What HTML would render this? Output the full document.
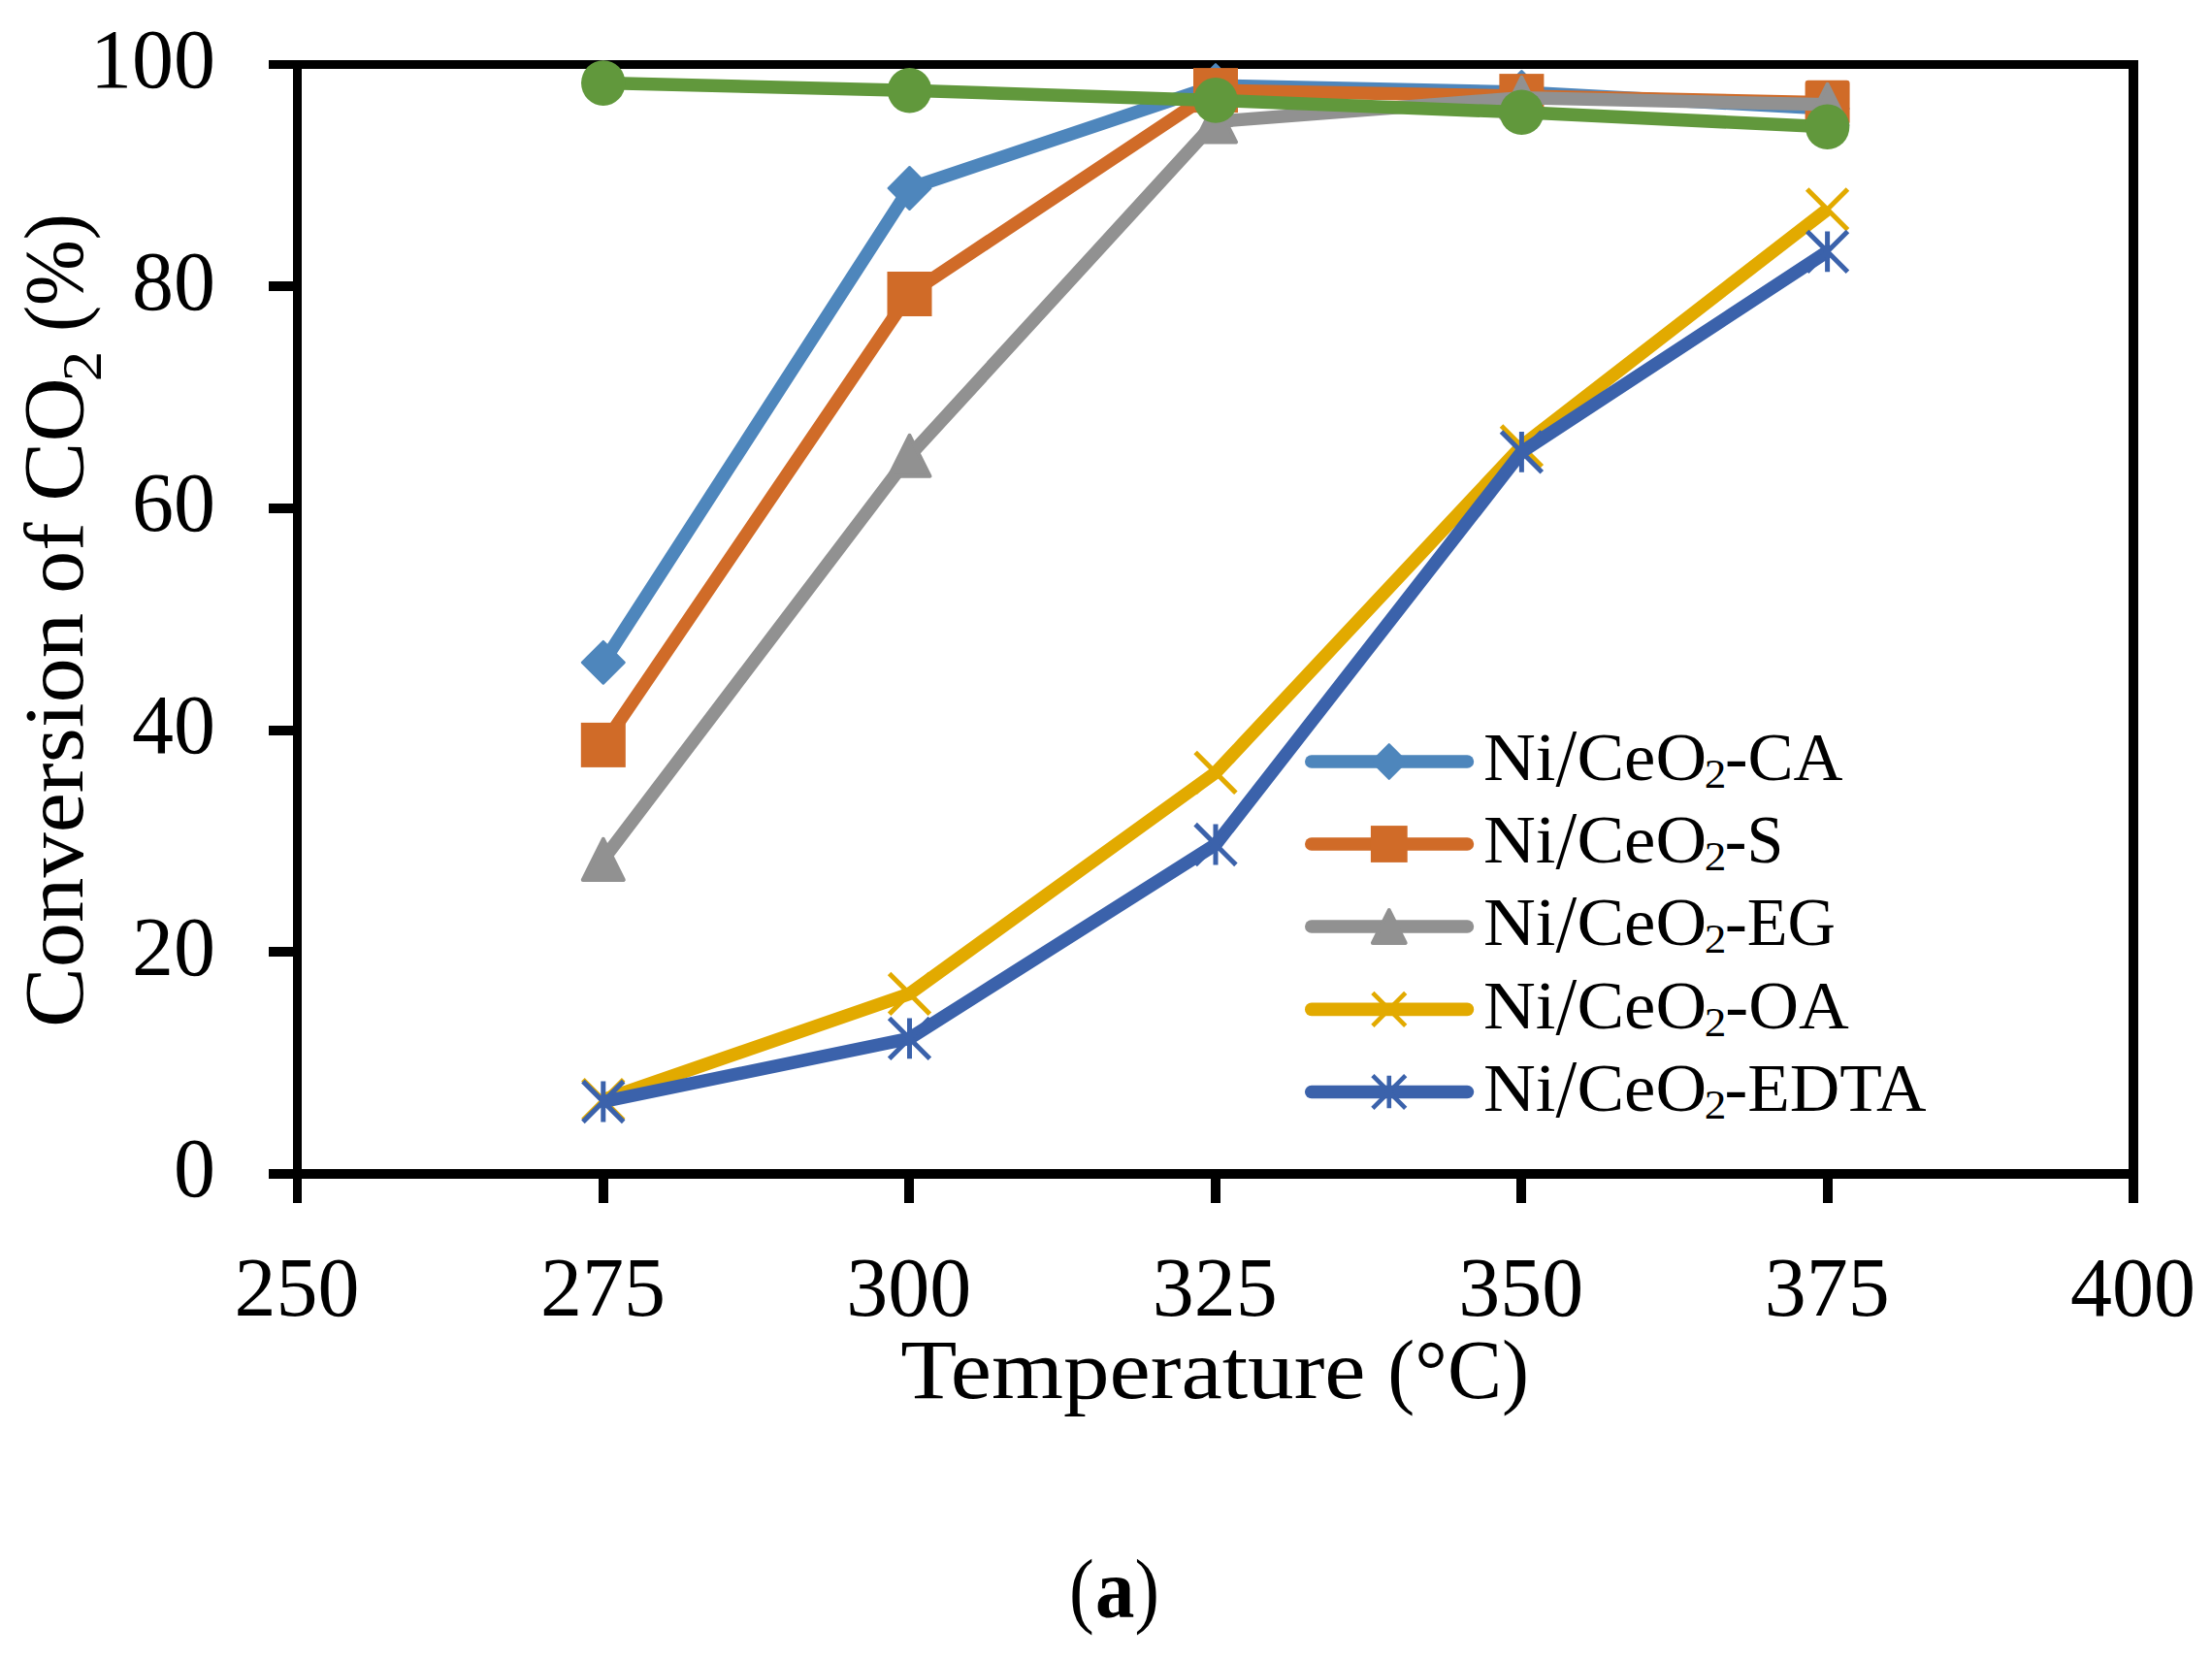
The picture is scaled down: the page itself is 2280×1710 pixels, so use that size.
<!DOCTYPE html>
<html lang="en"><head><meta charset="utf-8"><title>Conversion of CO2 vs temperature (a)</title>
<style>html,body{margin:0;padding:0;background:#fff}svg{display:block}text{font-family:"Liberation Serif","DejaVu Serif",serif;fill:#000}</style></head><body>
<svg width="2280" height="1710" viewBox="0 0 2280 1710">
<rect width="2280" height="1710" fill="#fff"/>
<g fill="#000">
<rect x="302" y="62" width="9" height="1178"/>
<rect x="2194" y="62" width="10" height="1178"/>
<rect x="277" y="62" width="1927" height="9"/>
<rect x="277" y="1205" width="1927" height="10"/>
<rect x="277" y="290" width="26" height="10"/>
<rect x="277" y="519" width="26" height="10"/>
<rect x="277" y="748" width="26" height="10"/>
<rect x="277" y="976" width="26" height="10"/>
<rect x="617" y="1214" width="10" height="26"/>
<rect x="932" y="1214" width="10" height="26"/>
<rect x="1248" y="1214" width="10" height="26"/>
<rect x="1563" y="1214" width="10" height="26"/>
<rect x="1879" y="1214" width="10" height="26"/>
</g>
<g>
<polyline points="621.8,682.8 937.5,194 1253,88.1 1568.4,95 1883.6,112" fill="none" stroke="#4e86bc" stroke-width="13.5" stroke-linejoin="round" stroke-linecap="butt"/>
<path d="M621.8 661L643.6 682.8L621.8 704.6L600 682.8Z" fill="#4e86bc" stroke="#4e86bc" stroke-width="2.4" stroke-linejoin="round"/>
<path d="M937.5 172.2L959.3 194L937.5 215.8L915.7 194Z" fill="#4e86bc" stroke="#4e86bc" stroke-width="2.4" stroke-linejoin="round"/>
<path d="M1253 66.3L1274.8 88.1L1253 109.9L1231.2 88.1Z" fill="#4e86bc" stroke="#4e86bc" stroke-width="2.4" stroke-linejoin="round"/>
<path d="M1568.4 73.2L1590.2 95L1568.4 116.8L1546.6 95Z" fill="#4e86bc" stroke="#4e86bc" stroke-width="2.4" stroke-linejoin="round"/>
<path d="M1883.6 90.2L1905.4 112L1883.6 133.8L1861.8 112Z" fill="#4e86bc" stroke="#4e86bc" stroke-width="2.4" stroke-linejoin="round"/>
</g>
<g>
<polyline points="621.8,767.9 937.5,303 1253,93.1 1568.4,99.1 1883.6,105.8" fill="none" stroke="#d06b28" stroke-width="13.5" stroke-linejoin="round" stroke-linecap="butt"/>
<rect x="598.8" y="744.9" width="46" height="46" fill="#d06b28"/>
<rect x="914.5" y="280" width="46" height="46" fill="#d06b28"/>
<rect x="1230" y="70.1" width="46" height="46" fill="#d06b28"/>
<rect x="1545.4" y="76.1" width="46" height="46" fill="#d06b28"/>
<rect x="1860.6" y="82.8" width="46" height="46" rx="3.2" fill="#d06b28"/>
</g>
<g>
<polyline points="621.8,885.9 937.5,469.8 1253,125.4 1568.4,100.8 1883.6,107.8" fill="none" stroke="#919191" stroke-width="13.5" stroke-linejoin="round" stroke-linecap="butt"/>
<path d="M621.8 864.9L642.8 906.9L600.8 906.9Z" fill="#919191" stroke="#919191" stroke-width="4" stroke-linejoin="round"/>
<path d="M937.5 448.8L958.5 490.8L916.5 490.8Z" fill="#919191" stroke="#919191" stroke-width="4" stroke-linejoin="round"/>
<path d="M1253 104.4L1274 146.4L1232 146.4Z" fill="#919191" stroke="#919191" stroke-width="4" stroke-linejoin="round"/>
<path d="M1568.4 79.8L1589.4 121.8L1547.4 121.8Z" fill="#919191" stroke="#919191" stroke-width="4" stroke-linejoin="round"/>
<path d="M1883.6 86.8L1904.6 128.8L1862.6 128.8Z" fill="#919191" stroke="#919191" stroke-width="4" stroke-linejoin="round"/>
</g>
<g>
<polyline points="621.8,1133.6 937.5,1024.3 1253,796.4 1568.4,459.8 1883.6,215.8" fill="none" stroke="#e2aa00" stroke-width="13.5" stroke-linejoin="round" stroke-linecap="butt"/>
<path d="M600.92 1112.72L642.68 1154.48M600.92 1154.48L642.68 1112.72" fill="none" stroke="#e2aa00" stroke-width="5"/>
<path d="M916.62 1003.42L958.38 1045.18M916.62 1045.18L958.38 1003.42" fill="none" stroke="#e2aa00" stroke-width="5"/>
<path d="M1232.12 775.52L1273.88 817.28M1232.12 817.28L1273.88 775.52" fill="none" stroke="#e2aa00" stroke-width="5"/>
<path d="M1547.52 438.92L1589.28 480.68M1547.52 480.68L1589.28 438.92" fill="none" stroke="#e2aa00" stroke-width="5"/>
<path d="M1862.72 194.92L1904.48 236.68M1862.72 236.68L1904.48 194.92" fill="none" stroke="#e2aa00" stroke-width="5"/>
</g>
<g>
<polyline points="621.8,1135.5 937.5,1070.3 1253,870.5 1568.4,465.95 1883.6,259.3" fill="none" stroke="#3b62ab" stroke-width="13.5" stroke-linejoin="round" stroke-linecap="butt"/>
<path d="M600.92 1114.62L642.68 1156.38M600.92 1156.38L642.68 1114.62M621.8 1114.6L621.8 1156.4" fill="none" stroke="#3b62ab" stroke-width="5"/>
<path d="M916.62 1049.42L958.38 1091.18M916.62 1091.18L958.38 1049.42M937.5 1049.4L937.5 1091.2" fill="none" stroke="#3b62ab" stroke-width="5"/>
<path d="M1232.12 849.62L1273.88 891.38M1232.12 891.38L1273.88 849.62M1253 849.6L1253 891.4" fill="none" stroke="#3b62ab" stroke-width="5"/>
<path d="M1547.52 445.07L1589.28 486.83M1547.52 486.83L1589.28 445.07M1568.4 445.05L1568.4 486.85" fill="none" stroke="#3b62ab" stroke-width="5"/>
<path d="M1862.72 238.42L1904.48 280.18M1862.72 280.18L1904.48 238.42M1883.6 238.4L1883.6 280.2" fill="none" stroke="#3b62ab" stroke-width="5"/>
</g>
<g>
<polyline points="621.8,85.6 937.5,93.2 1253,103.4 1568.4,115.8 1883.6,130.8" fill="none" stroke="#61983c" stroke-width="13.5" stroke-linejoin="round" stroke-linecap="butt"/>
<ellipse cx="621.8" cy="85.6" rx="22.75" ry="23.3" fill="#61983c"/>
<ellipse cx="937.5" cy="93.2" rx="22.75" ry="23.3" fill="#61983c"/>
<ellipse cx="1253" cy="103.4" rx="22.75" ry="23.3" fill="#61983c"/>
<ellipse cx="1568.4" cy="115.8" rx="22.75" ry="23.3" fill="#61983c"/>
<ellipse cx="1883.6" cy="130.8" rx="22.75" ry="23.3" fill="#61983c"/>
</g>
<g font-size="86">
<text x="222" y="89.8" text-anchor="end">100</text>
<text x="222" y="318.52" text-anchor="end">80</text>
<text x="222" y="547.24" text-anchor="end">60</text>
<text x="222" y="775.96" text-anchor="end">40</text>
<text x="222" y="1004.68" text-anchor="end">20</text>
<text x="222" y="1233.4" text-anchor="end">0</text>
<text x="306" y="1356.2" text-anchor="middle">250</text>
<text x="621.43" y="1356.2" text-anchor="middle">275</text>
<text x="936.87" y="1356.2" text-anchor="middle">300</text>
<text x="1252.3" y="1356.2" text-anchor="middle">325</text>
<text x="1567.73" y="1356.2" text-anchor="middle">350</text>
<text x="1883.17" y="1356.2" text-anchor="middle">375</text>
<text x="2198.6" y="1356.2" text-anchor="middle">400</text>
</g>
<text y="1441" font-size="86"><tspan x="928.3" font-size="86" textLength="479.23" lengthAdjust="spacingAndGlyphs">Temperature</tspan> <tspan x="1430.25" font-size="87" textLength="145.74" lengthAdjust="spacingAndGlyphs">(°C)</tspan></text>
<g transform="translate(84.6 0) rotate(-90)"><text y="0" font-size="86"><tspan x="-1059.05" font-size="86" textLength="427.22" lengthAdjust="spacingAndGlyphs">Conversion</tspan> <tspan x="-611.65" font-size="86" textLength="73.1" lengthAdjust="spacingAndGlyphs">of</tspan> <tspan x="-516.7" font-size="88" textLength="127.32" lengthAdjust="spacingAndGlyphs">CO</tspan><tspan x="-393.2" font-size="57" y="19.6" textLength="31.39" lengthAdjust="spacingAndGlyphs">2</tspan> <tspan x="-342.05" font-size="87" y="0" textLength="121.95" lengthAdjust="spacingAndGlyphs">(%)</tspan></text></g>
<g>
<path d="M1351.8 785L1512.4 785" stroke="#4e86bc" stroke-width="13.6" stroke-linecap="round" fill="none"/>
<path d="M1431.8 767.3L1449.5 785L1431.8 802.7L1414.1 785Z" fill="#4e86bc" stroke="#4e86bc" stroke-width="2.4" stroke-linejoin="round"/>
<text y="803.8" font-size="69.5"><tspan x="1529" textLength="74.5" lengthAdjust="spacingAndGlyphs">Ni</tspan><tspan x="1603.55" y="810.1" font-size="85" textLength="21.79" lengthAdjust="spacingAndGlyphs">/</tspan><tspan x="1625.45" y="803.8" textLength="133.63" lengthAdjust="spacingAndGlyphs">CeO</tspan><tspan x="1756.7" y="811.7" font-size="43" textLength="22.61" lengthAdjust="spacingAndGlyphs">2</tspan><tspan x="1778.05" y="803.8" textLength="121.55" lengthAdjust="spacingAndGlyphs">-CA</tspan></text>
</g>
<g>
<path d="M1351.8 870L1512.4 870" stroke="#d06b28" stroke-width="13.6" stroke-linecap="round" fill="none"/>
<rect x="1412.9" y="851.1" width="37.8" height="37.8" fill="#d06b28"/>
<text y="889.1" font-size="69.5"><tspan x="1529" textLength="74.5" lengthAdjust="spacingAndGlyphs">Ni</tspan><tspan x="1603.55" y="895.4" font-size="85" textLength="21.79" lengthAdjust="spacingAndGlyphs">/</tspan><tspan x="1625.45" y="889.1" textLength="133.63" lengthAdjust="spacingAndGlyphs">CeO</tspan><tspan x="1756.7" y="897" font-size="43" textLength="22.61" lengthAdjust="spacingAndGlyphs">2</tspan><tspan x="1777.8" y="889.1" textLength="60.48" lengthAdjust="spacingAndGlyphs">-S</tspan></text>
</g>
<g>
<path d="M1351.8 955L1512.4 955" stroke="#919191" stroke-width="13.6" stroke-linecap="round" fill="none"/>
<path d="M1431.8 938.1L1448.7 971.9L1414.9 971.9Z" fill="#919191" stroke="#919191" stroke-width="4" stroke-linejoin="round"/>
<text y="974.4" font-size="69.5"><tspan x="1529" textLength="74.5" lengthAdjust="spacingAndGlyphs">Ni</tspan><tspan x="1603.55" y="980.7" font-size="85" textLength="21.79" lengthAdjust="spacingAndGlyphs">/</tspan><tspan x="1625.45" y="974.4" textLength="133.63" lengthAdjust="spacingAndGlyphs">CeO</tspan><tspan x="1756.7" y="982.3" font-size="43" textLength="22.61" lengthAdjust="spacingAndGlyphs">2</tspan><tspan x="1777.95" y="974.4" textLength="113.94" lengthAdjust="spacingAndGlyphs">-EG</tspan></text>
</g>
<g>
<path d="M1351.8 1040.4L1512.4 1040.4" stroke="#e2aa00" stroke-width="13.6" stroke-linecap="round" fill="none"/>
<path d="M1414.88 1023.48L1448.72 1057.32M1414.88 1057.32L1448.72 1023.48" fill="none" stroke="#e2aa00" stroke-width="4.6"/>
<text y="1059.7" font-size="69.5"><tspan x="1529" textLength="74.5" lengthAdjust="spacingAndGlyphs">Ni</tspan><tspan x="1603.55" y="1066" font-size="85" textLength="21.79" lengthAdjust="spacingAndGlyphs">/</tspan><tspan x="1625.45" y="1059.7" textLength="133.63" lengthAdjust="spacingAndGlyphs">CeO</tspan><tspan x="1756.7" y="1067.6" font-size="43" textLength="22.61" lengthAdjust="spacingAndGlyphs">2</tspan><tspan x="1778.3" y="1059.7" textLength="127.42" lengthAdjust="spacingAndGlyphs">-OA</tspan></text>
</g>
<g>
<path d="M1351.8 1125.5L1512.4 1125.5" stroke="#3b62ab" stroke-width="13.6" stroke-linecap="round" fill="none"/>
<path d="M1414.88 1108.58L1448.72 1142.42M1414.88 1142.42L1448.72 1108.58M1431.8 1108.7L1431.8 1142.3" fill="none" stroke="#3b62ab" stroke-width="4.6"/>
<text y="1145" font-size="69.5"><tspan x="1529" textLength="74.5" lengthAdjust="spacingAndGlyphs">Ni</tspan><tspan x="1603.55" y="1151.3" font-size="85" textLength="21.79" lengthAdjust="spacingAndGlyphs">/</tspan><tspan x="1625.45" y="1145" textLength="133.63" lengthAdjust="spacingAndGlyphs">CeO</tspan><tspan x="1756.7" y="1152.9" font-size="43" textLength="22.61" lengthAdjust="spacingAndGlyphs">2</tspan><tspan x="1777.45" y="1145" textLength="208.13" lengthAdjust="spacingAndGlyphs">-EDTA</tspan></text>
</g>
<text y="1667" font-size="87"><tspan x="1101.95" textLength="25.78" lengthAdjust="spacingAndGlyphs">(</tspan><tspan x="1129.05" font-weight="bold" textLength="40.44" lengthAdjust="spacingAndGlyphs">a</tspan><tspan x="1169.5" font-weight="normal" textLength="25.42" lengthAdjust="spacingAndGlyphs">)</tspan></text>
</svg></body></html>
